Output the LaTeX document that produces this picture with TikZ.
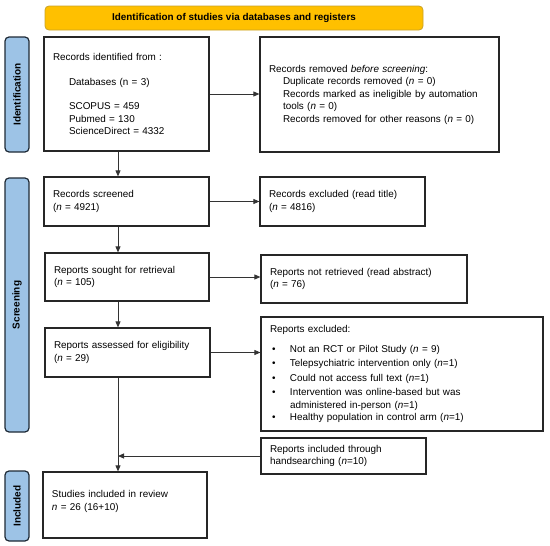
\documentclass[tikz,border=0pt]{standalone}
\usepackage{fontspec}
\setmainfont{Liberation Sans}
\usetikzlibrary{arrows.meta}
\definecolor{boxline}{HTML}{262626}
\definecolor{bannerfill}{HTML}{FFC000}
\definecolor{bannerline}{HTML}{C9A227}
\definecolor{sidefill}{HTML}{9DC3E6}
\definecolor{sideline}{HTML}{1E2A36}
\definecolor{arrowline}{HTML}{333333}
\tikzset{
  flowbox/.style={draw=boxline, line width=1.2pt, fill=white, inner xsep=9pt, inner ysep=0pt,
    align=left, font=\fontsize{9.9}{12.5}\selectfont},
  sidebar/.style={draw=sideline, line width=1.2pt, fill=sidefill, rounded corners=4pt,
    minimum width=24pt, inner sep=0pt},
  sidetext/.style={rotate=90, font=\fontsize{10}{12}\selectfont\bfseries},
  banner/.style={draw=bannerline, line width=0.8pt, fill=bannerfill, rounded corners=4pt,
    minimum width=378pt, minimum height=24pt, font=\fontsize{9.9}{12}\selectfont\bfseries},
  flowarrow/.style={draw=arrowline, line width=0.85pt, -{Triangle[length=6pt,width=5pt]}},
  flowline/.style={draw=arrowline, line width=0.85pt}
}
\begin{document}
\begin{tikzpicture}[x=1pt,y=-1pt]
\useasboundingbox (0,0) rectangle (550,546);
\coordinate (spine) at (118,0);

\node[banner] (banner) at (234,18) {Identification of studies via databases and registers};

\node[sidebar, minimum height=115pt] (sid) at (17,94.5) {};
\node[sidetext] (sidt) at (sid.center) {Identification};
\node[sidebar, minimum height=254pt] (sscr) at (17,305) {};
\node[sidetext] (sscrt) at (sscr.center) {Screening};
\node[sidebar, minimum height=70pt] (sinc) at (17,506) {};
\node[sidetext] (sinct) at (sinc.center) {Included};

\node[flowbox, minimum width=165pt, minimum height=114pt, text width=147pt] (b1) at (126.5,94) {%
Records identified from :\\[12.5pt]
\hspace*{16pt}Databases (n = 3)\\[12pt]
\hspace*{16pt}SCOPUS = 459\\
\hspace*{16pt}Pubmed = 130\\
\hspace*{16pt}ScienceDirect = 4332};

\node[flowbox, minimum width=239pt, minimum height=115pt, text width=221pt] (b2) at (379.5,94.5) {%
Records removed \textit{before screening}:\\
\hspace*{14pt}Duplicate records removed (\textit{n} = 0)\\
\hspace*{14pt}Records marked as ineligible by automation\\
\hspace*{14pt}tools (\textit{n} = 0)\\
\hspace*{14pt}Records removed for other reasons (\textit{n} = 0)};

\node[flowbox, minimum width=165pt, minimum height=49pt, text width=147pt] (b3) at (126.5,201.5) {%
Records screened\\[1pt]
(\textit{n} = 4921)};

\node[flowbox, minimum width=165pt, minimum height=49pt, text width=147pt] (b4) at (342.5,201.5) {%
Records excluded (read title)\\[1pt]
(\textit{n} = 4816)};

\node[flowbox, minimum width=164pt, minimum height=48pt, text width=146pt] (b5) at (127,277) {%
Reports sought for retrieval\\
(\textit{n} = 105)};

\node[flowbox, minimum width=206pt, minimum height=48pt, text width=188pt] (b6) at (364,279) {%
Reports not retrieved (read abstract)\\
(\textit{n} = 76)};

\node[flowbox, minimum width=165pt, minimum height=49pt, text width=147pt] (b7) at (127.5,352.5) {%
Reports assessed for eligibility\\
(\textit{n} = 29)};

\node[flowbox, minimum width=282pt, minimum height=114pt, text width=264pt] (b8) at (402,374) {%
Reports excluded:\\[7.5pt]
\hspace*{2pt}\makebox[18pt][l]{•}Not an RCT or Pilot Study (\textit{n} = 9)\\[1.8pt]
\hspace*{2pt}\makebox[18pt][l]{•}Telepsychiatric intervention only (\textit{n}=1)\\[1.8pt]
\hspace*{2pt}\makebox[18pt][l]{•}Could not access full text (\textit{n}=1)\\[1.8pt]
\hspace*{2pt}\makebox[18pt][l]{•}Intervention was online-based but was\\
\hspace*{20pt}administered in-person (\textit{n}=1)\\
\hspace*{2pt}\makebox[18pt][l]{•}Healthy population in control arm (\textit{n}=1)};

\node[flowbox, minimum width=165pt, minimum height=36pt, text width=147pt] (b9) at (343.5,456) {%
Reports included through\\
handsearching (\textit{n}=10)};

\node[flowbox, minimum width=164pt, minimum height=66pt, text width=146pt] (b10) at (125,505) {%
Studies included in review\\
\textit{n} = 26 (16+10)\\[-3pt]\mbox{}};

\draw[flowarrow] (b1.east) -- (b1.east -| b2.west);
\draw[flowarrow] (b1.south -| spine) -- (b3.north -| spine);
\draw[flowarrow] (b3.east) -- (b3.east -| b4.west);
\draw[flowarrow] (b3.south -| spine) -- (b5.north -| spine);
\draw[flowarrow] (b5.east) -- (b5.east -| b6.west);
\draw[flowarrow] (b5.south -| spine) -- (b7.north -| spine);
\draw[flowarrow] (b7.east) -- (b7.east -| b8.west);
\draw[flowarrow] (b7.south -| spine) -- (b10.north -| spine);
\draw[flowarrow] (b9.west) -- (b9.west -| spine);
\end{tikzpicture}
\end{document}
